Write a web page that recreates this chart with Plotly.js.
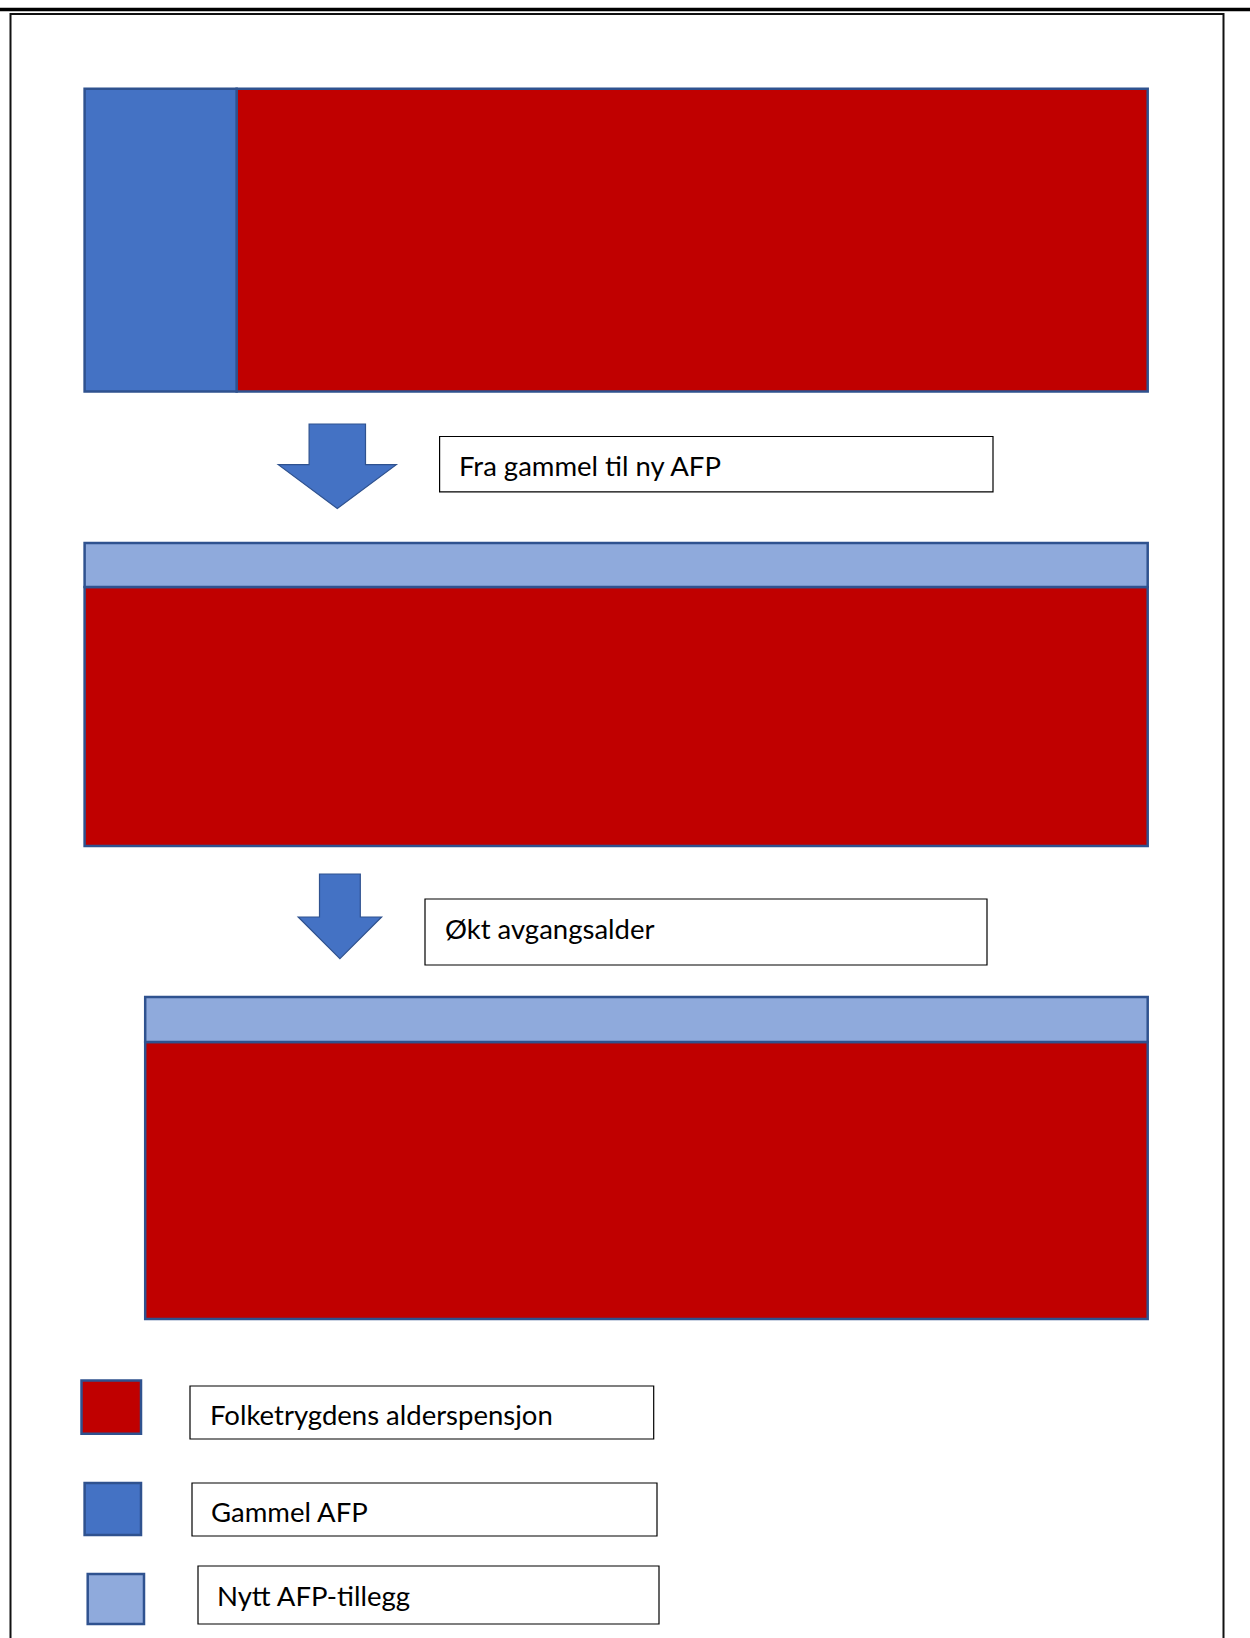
<!DOCTYPE html>
<html>
<head>
<meta charset="utf-8">
<script src="https://cdn.plot.ly/plotly-3.0.1.min.js"></script>
<style>html,body{margin:0;padding:0;background:#fff;}#chart{width:1250px;height:1638px;}</style>
</head>
<body>
<div id="chart"></div>
<script>
// ---------- DATA ----------
const categories = ["Folketrygdens alderspensjon", "Gammel AFP", "Nytt AFP-tillegg"];
const categoryColors = ["#C00000", "#4472C4", "#8FAADC"];
const steps = ["Fra gammel til ny AFP", "Økt avgangsalder"];

// Segments per panel (x: share of the time span 0–100, y: level 0–100)
const folkPanel = [0, 1, 2];
const folkX0 = [14.3, 0, 5.7];
const folkX1 = [100, 100, 100];
const folkY0 = [0, 0, 0];
const folkY1 = [100, 85.5, 86];

const gammelPanel = [0];
const gammelX0 = [0];
const gammelX1 = [14.3];
const gammelY0 = [0];
const gammelY1 = [100];

const tilleggPanel = [1, 2];
const tilleggX0 = [0, 5.7];
const tilleggX1 = [100, 100];
const tilleggY0 = [85.5, 86];
const tilleggY1 = [100, 100];

// ---------- LAYOUT GEOMETRY (pixels) ----------
const W = 1250, H = 1638;
const panelTop = [88.8, 543, 997];
const panelBottom = [391.6, 846, 1319];
const pad = 3; // y-range padding in data units
const X_LEFT_PX = 84.6, X_RIGHT_PX = 1147.7;
const unit = (X_RIGHT_PX - X_LEFT_PX) / 100;
const xRange = [-X_LEFT_PX / unit, (W - X_LEFT_PX) / unit];

function yDomain(i) {
  const T = panelTop[i], B = panelBottom[i], h = B - T;
  const f = pad / 100;
  return [1 - (B + f * h) / H, 1 - (T - f * h) / H];
}
const px = x => x / W;
const py = y => 1 - y / H;

const edge = "#2F528F";
const yNames = ["y", "y2", "y3"];

const traces = [];
function addSegments(catIdx, panels, x0, x1, y0, y1) {
  panels.forEach((p, k) => {
    traces.push({
      type: "bar",
      name: categories[catIdx],
      xaxis: "x",
      yaxis: yNames[p],
      x: [(x0[k] + x1[k]) / 2],
      width: [x1[k] - x0[k]],
      base: [y0[k]],
      y: [y1[k] - y0[k]],
      marker: { color: categoryColors[catIdx], line: { color: edge, width: 2.5 } },
      showlegend: false,
      hoverinfo: "name"
    });
  });
}
addSegments(0, folkPanel, folkX0, folkX1, folkY0, folkY1);
addSegments(1, gammelPanel, gammelX0, gammelX1, gammelY0, gammelY1);
addSegments(2, tilleggPanel, tilleggX0, tilleggX1, tilleggY0, tilleggY1);

const hiddenY = i => ({ domain: yDomain(i), range: [-pad, 100 + pad], visible: false, fixedrange: true, anchor: "x" });

const shapes = [];
const annotations = [];
const font = { family: "Lato, 'Open Sans', sans-serif", size: 27.5, color: "#000" };

// Page decoration: rule at top and frame
shapes.push({ type: "line", xref: "paper", yref: "paper", x0: 0, x1: 1, y0: py(9.5), y1: py(9.5), line: { color: "#000", width: 3.5 } });
shapes.push({ type: "rect", xref: "paper", yref: "paper", x0: px(10.5), x1: px(1223.5), y0: py(14), y1: py(1660), line: { color: "#111", width: 2 }, fillcolor: "rgba(0,0,0,0)" });

// Arrows
function arrowPath(cx, shaftHalf, top, headHalf, headY, tipY) {
  const pts = [[cx - shaftHalf, top], [cx + shaftHalf, top], [cx + shaftHalf, headY], [cx + headHalf, headY],
               [cx, tipY], [cx - headHalf, headY], [cx - shaftHalf, headY]];
  return "M" + pts.map(p => px(p[0]) + "," + py(p[1])).join(" L") + " Z";
}
shapes.push({ type: "path", xref: "paper", yref: "paper", path: arrowPath(337.3, 28.2, 424, 59, 464.7, 508.6), fillcolor: "#4472C4", line: { color: edge, width: 1.2 } });
shapes.push({ type: "path", xref: "paper", yref: "paper", path: arrowPath(339.9, 20.4, 874, 41.7, 917, 958.6), fillcolor: "#4472C4", line: { color: edge, width: 1.2 } });

// Step text boxes
const stepBoxes = [[439.6, 993, 436.5, 491.9], [425, 987, 899, 965]];
const stepText = [[457, 465], [443, 928]];
stepBoxes.forEach((b, i) => {
  shapes.push({ type: "rect", xref: "paper", yref: "paper", x0: px(b[0]), x1: px(b[1]), y0: py(b[2]), y1: py(b[3]), line: { color: "#000", width: 1.2 }, fillcolor: "#fff" });
  annotations.push({ xref: "paper", yref: "paper", x: px(stepText[i][0]), y: py(stepText[i][1]), xanchor: "left", yanchor: "middle", text: steps[i], showarrow: false, font: font });
});

// Legend (custom)
const legSquares = [[81.5, 141, 1380.6, 1433.8], [84.6, 141, 1483, 1535], [87.7, 144, 1574, 1624]];
const legBoxes = [[190, 653.7, 1386, 1439], [192, 657, 1483, 1536], [198, 659, 1566, 1624]];
const legText = [[208, 1414], [209, 1511], [215, 1595]];
const legOrder = [0, 1, 2];
legOrder.forEach((c, i) => {
  const s = legSquares[i], b = legBoxes[i];
  shapes.push({ type: "rect", xref: "paper", yref: "paper", x0: px(s[0]), x1: px(s[1]), y0: py(s[2]), y1: py(s[3]), line: { color: edge, width: 2.5 }, fillcolor: categoryColors[c] });
  shapes.push({ type: "rect", xref: "paper", yref: "paper", x0: px(b[0]), x1: px(b[1]), y0: py(b[2]), y1: py(b[3]), line: { color: "#000", width: 1.2 }, fillcolor: "#fff" });
  annotations.push({ xref: "paper", yref: "paper", x: px(legText[i][0]), y: py(legText[i][1]), xanchor: "left", yanchor: "middle", text: categories[c], showarrow: false, font: font });
});

const layout = {
  width: W, height: H,
  margin: { l: 0, r: 0, t: 0, b: 0, pad: 0 },
  paper_bgcolor: "#fff", plot_bgcolor: "rgba(0,0,0,0)",
  barmode: "overlay",
  showlegend: false,
  xaxis: { domain: [0, 1], range: xRange, visible: false, fixedrange: true, anchor: "y" },
  yaxis: hiddenY(0),
  yaxis2: hiddenY(1),
  yaxis3: hiddenY(2),
  shapes: shapes,
  annotations: annotations
};

Plotly.newPlot("chart", traces, layout, { staticPlot: true, displayModeBar: false });
</script>
</body>
</html>
